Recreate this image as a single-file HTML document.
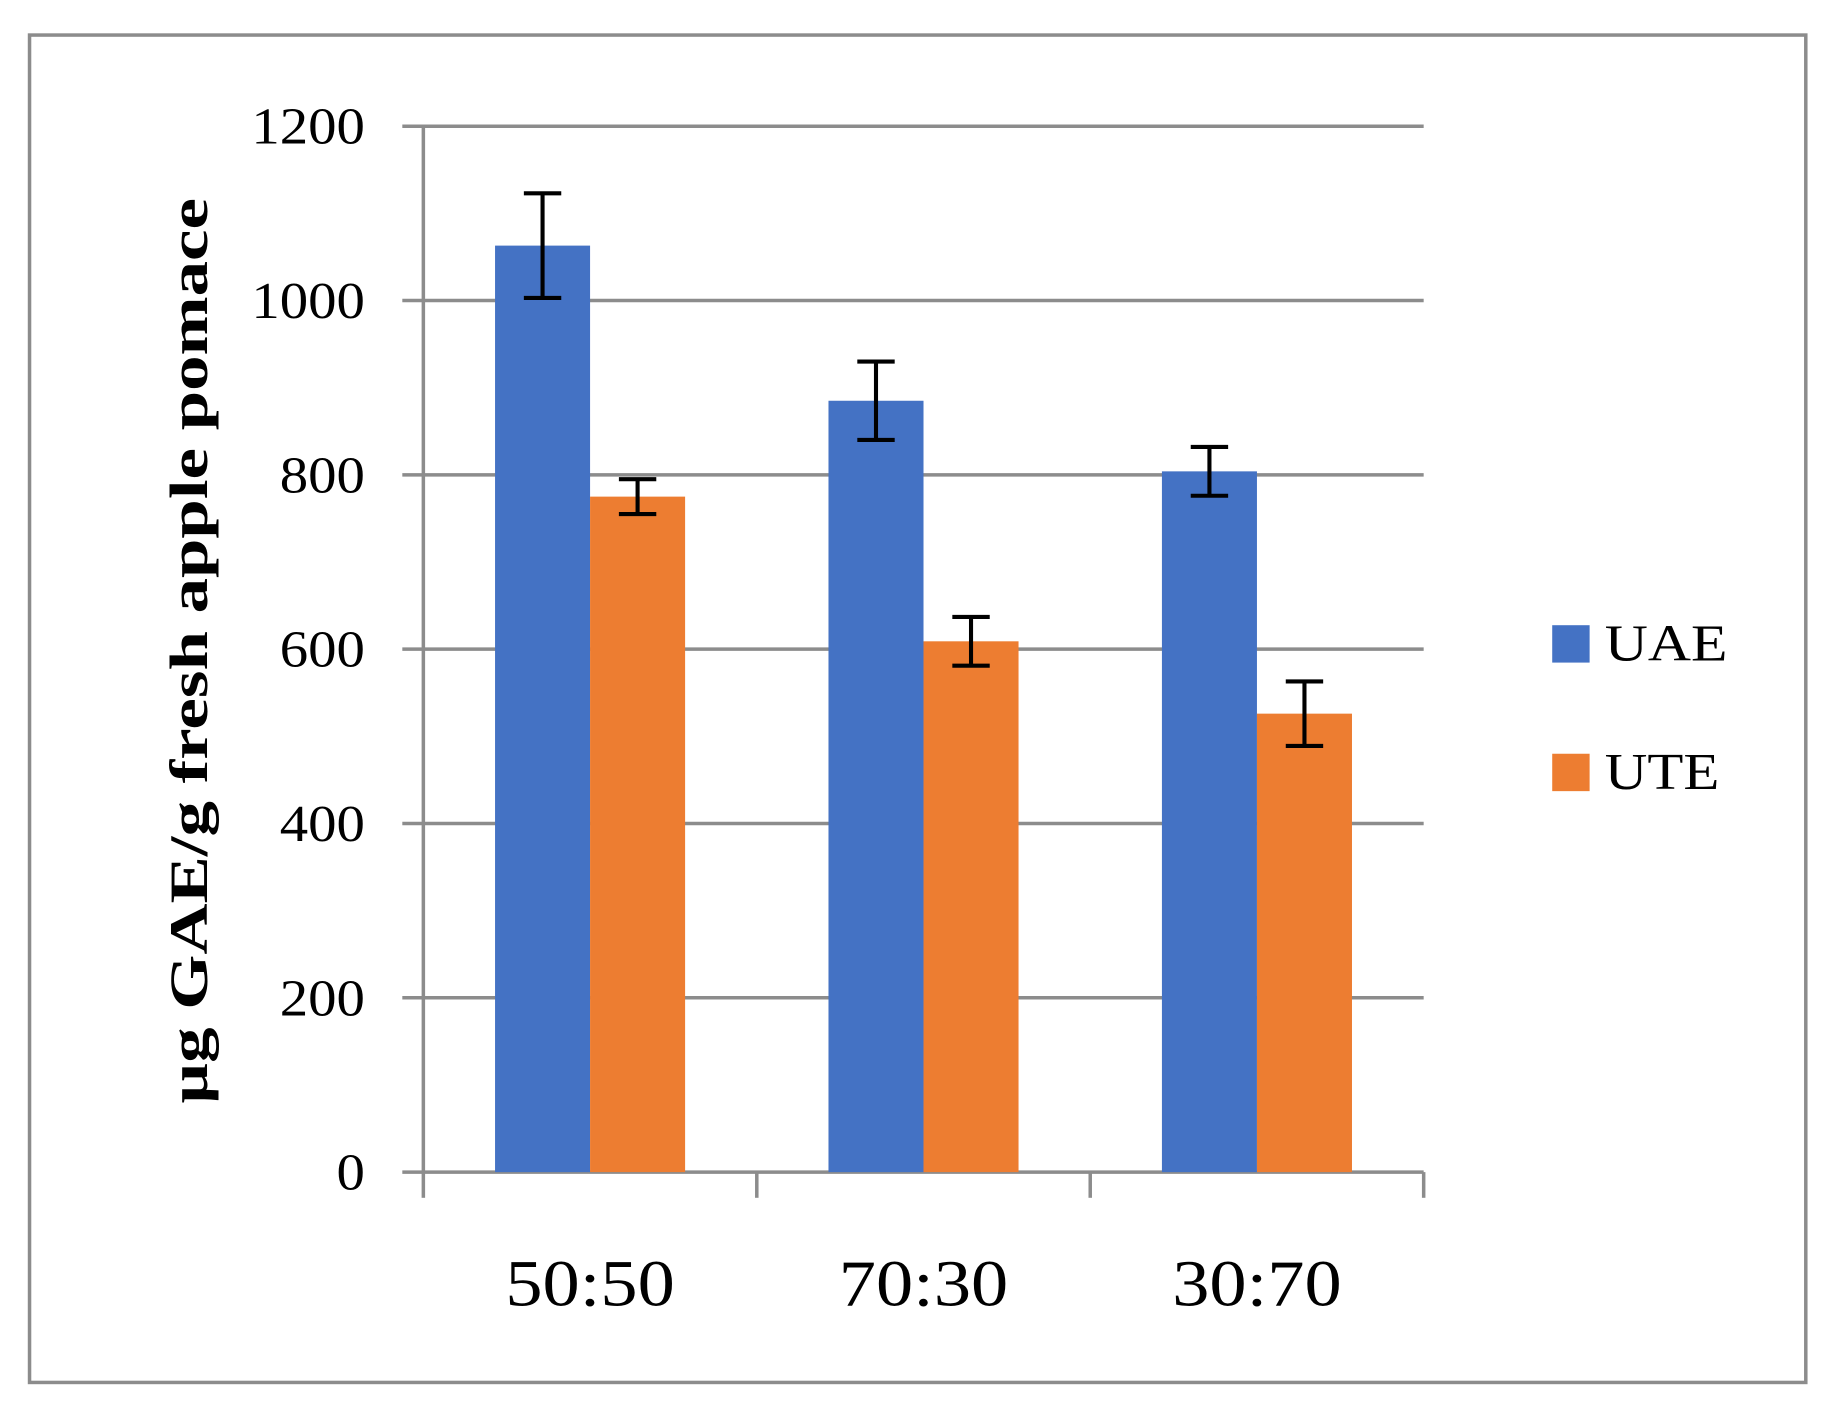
<!DOCTYPE html>
<html><head><meta charset="utf-8"><style>html,body{margin:0;padding:0;background:#fff}svg{display:block}</style></head>
<body>
<svg width="1833" height="1414" viewBox="0 0 1568 1210" xmlns="http://www.w3.org/2000/svg" font-family="'Liberation Serif', serif">
<rect x="25" y="30" width="1520" height="1153" fill="#fff" stroke="#8c8c8c" stroke-width="3"/>
<g id="grid"></g><g id="bars"></g><g id="axes"></g>
<text transform="translate(177,557) rotate(-90)" text-anchor="middle" font-size="46" font-weight="bold" fill="#000" textLength="775" lengthAdjust="spacingAndGlyphs">µg GAE/g fresh apple pomace</text>
<g>
<rect x="1328" y="535" width="32" height="32" fill="#4472c4"/>
<text x="1373" y="565" font-size="44" textLength="105" lengthAdjust="spacingAndGlyphs">UAE</text>
<rect x="1328" y="645" width="32" height="32" fill="#ed7d31"/>
<text x="1373" y="675" font-size="44" textLength="98" lengthAdjust="spacingAndGlyphs">UTE</text>
</g>
</svg>
<script>
const categories = ["50:50","70:30","30:70"];
const uaeValues = [1063, 885, 804];
const uaeErrors = [60, 45, 28];
const uteValues = [775, 609, 526];
const uteErrors = [20, 28, 37];
const yTicks = [0,200,400,600,800,1000,1200];

const NS="http://www.w3.org/2000/svg";
const x0=362, x1=1218, yBase=1003, yTop=108, yMax=1200;
const y=v=>yBase-(v/yMax)*(yBase-yTop);
const catW=(x1-x0)/categories.length;
const barW=catW*0.285;
function mk(tag,attrs,parent){const e=document.createElementNS(NS,tag);for(const k in attrs)e.setAttribute(k,attrs[k]);parent.appendChild(e);return e;}
const grid=document.getElementById('grid'),bars=document.getElementById('bars'),axes=document.getElementById('axes');
yTicks.forEach(t=>{
  const l=mk('line',{x1:x0-18,x2:x1,y1:y(t),y2:y(t),stroke:'#8c8c8c','stroke-width':3},grid);
  
  
  const s=String(t);
  const tx=mk('text',{x:312,y:y(t)+15,'text-anchor':'end','font-size':44,textLength:s.length*24.3,lengthAdjust:'spacingAndGlyphs'},axes);
  tx.textContent=s;
  
  
});
const ya=mk('line',{x1:x0,x2:x0,y1:yTop,y2:yBase,stroke:'#8c8c8c','stroke-width':3},axes);


for(let i=0;i<=categories.length;i++){
  const tk=mk('line',{x1:x0+i*catW,x2:x0+i*catW,y1:yBase,y2:yBase+22,stroke:'#8c8c8c','stroke-width':3},axes);
  
  
}
function errBar(cx,v,e,name){
  const g=mk('g',{stroke:'#000','stroke-width':3.5},bars);
  
  
  mk('line',{x1:cx,x2:cx,y1:y(v+e),y2:y(v-e)},g);
  mk('line',{x1:cx-16,x2:cx+16,y1:y(v+e),y2:y(v+e)},g);
  mk('line',{x1:cx-16,x2:cx+16,y1:y(v-e),y2:y(v-e)},g);
}
categories.forEach((c,i)=>{
  const cx=x0+catW*(i+0.5);
  const b1=mk('rect',{x:cx-barW,y:y(uaeValues[i]),width:barW,height:yBase-y(uaeValues[i]),fill:'#4472c4'},bars);
  
  
  const b2=mk('rect',{x:cx,y:y(uteValues[i]),width:barW,height:yBase-y(uteValues[i]),fill:'#ed7d31'},bars);
  
  
  errBar(cx-barW/2,uaeValues[i],uaeErrors[i],'error-bar-uae-'+c);
  errBar(cx+barW/2,uteValues[i],uteErrors[i],'error-bar-ute-'+c);
  const t=mk('text',{x:cx,y:1117,'text-anchor':'middle','font-size':56,textLength:145,lengthAdjust:'spacingAndGlyphs'},axes);
  t.textContent=c;
  
  
});
</script>
</body></html>
